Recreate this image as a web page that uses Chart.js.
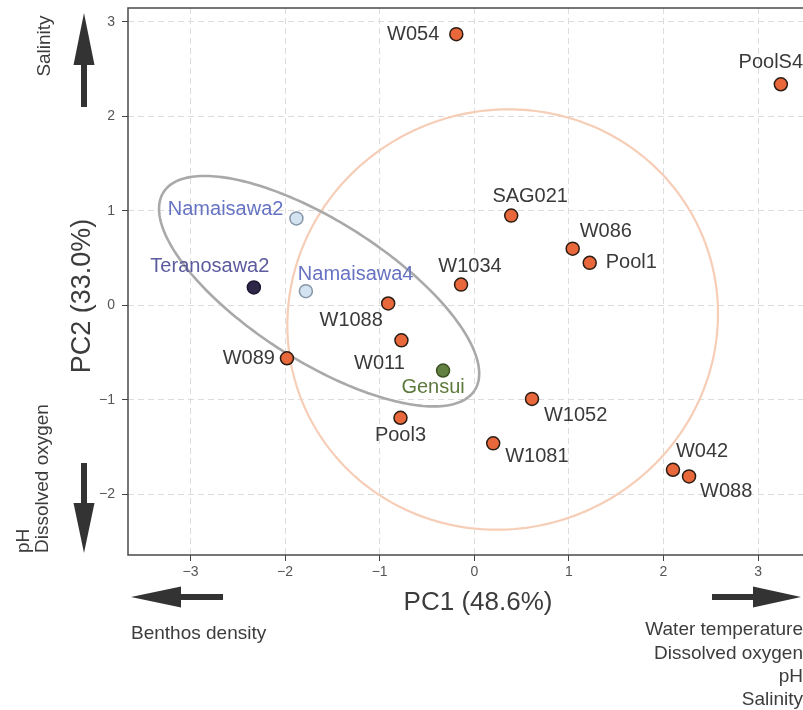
<!DOCTYPE html>
<html>
<head>
<meta charset="utf-8">
<script src="https://cdn.jsdelivr.net/npm/chart.js@4.4.1/dist/chart.umd.min.js"></script>
<style>
  html, body { margin: 0; padding: 0; background: #fff; overflow: hidden; width: 803px; height: 710px; }
  canvas { display: block; }
</style>
</head>
<body>
<canvas id="pca" width="830" height="710"></canvas>
<script>
// site scores on the first two principal components
const sites  = ['W054', 'PoolS4', 'SAG021', 'W086', 'Pool1', 'W1034', 'W1088', 'W011', 'W089',
                'Pool3', 'W1052', 'W1081', 'W042', 'W088', 'Namaisawa2', 'Namaisawa4', 'Teranosawa2', 'Gensui'];
const pc1    = [-0.19, 3.24, 0.39, 1.04, 1.22, -0.14, -0.91, -0.77, -1.98,
                -0.78, 0.61, 0.20, 2.10, 2.27, -1.88, -1.78, -2.33, -0.33];
const pc2    = [2.87, 2.34, 0.95, 0.60, 0.45, 0.22, 0.02, -0.37, -0.56,
                -1.19, -0.99, -1.46, -1.74, -1.81, 0.92, 0.15, 0.19, -0.69];
const groups = ['Other', 'Other', 'Other', 'Other', 'Other', 'Other', 'Other', 'Other', 'Other',
                'Other', 'Other', 'Other', 'Other', 'Other', 'Namaisawa', 'Namaisawa', 'Teranosawa', 'Gensui'];

// confidence ellipses (centre, semi axes, rotation in degrees)
const ellipseNames   = ['Other', 'Namaisawa'];
const ellipseCenterX = [0.30, -1.64];
const ellipseCenterY = [-0.15, 0.15];
const ellipseSemiA   = [2.29, 1.95];
const ellipseSemiB   = [2.21, 0.74];
const ellipseAngle   = [25, -32.5];

const xTicks = [-3, -2, -1, 0, 1, 2, 3];
const yTicks = [-2, -1, 0, 1, 2, 3];

const FONT = "'Liberation Sans', Arial, sans-serif";

const groupStyle = {
  Other:      { fill: '#e8683c', stroke: '#2b1d14', text: '#3a3a3a' },
  Namaisawa:  { fill: '#d4e3f0', stroke: '#8796a8', text: '#6673c2' },
  Teranosawa: { fill: '#2f2748', stroke: '#1a1530', text: '#5b5b9e' },
  Gensui:     { fill: '#62803f', stroke: '#3e5226', text: '#5d7a3c' }
};
const ellipseColor = { Other: '#f6cdb6', Namaisawa: '#a9a9a9' };

// label placement relative to the point: [dx, dy, align]
const labelPos = {
  W054: [-17, 0, 'right'], PoolS4: [-10, -22, 'center'], SAG021: [19, -19, 'center'],
  W086: [7, -17, 'left'], Pool1: [16, 0, 'left'], W1034: [9, -18, 'center'],
  W1088: [-37, 17, 'center'], W011: [-22, 23, 'center'], W089: [-12, 0, 'right'],
  Pool3: [0, 18, 'center'], W1052: [12, 17, 'left'], W1081: [12, 13, 'left'],
  W042: [3, -18, 'left'], W088: [11, 15, 'left'],
  Namaisawa2: [-13, -9, 'right'], Namaisawa4: [-8, -17, 'left'],
  Teranosawa2: [-44, -21, 'center'], Gensui: [-10, 17, 'center']
};

const groupOrder = ['Other', 'Namaisawa', 'Teranosawa', 'Gensui'];
const datasets = groupOrder.map(g => {
  const idx = sites.map((s, i) => i).filter(i => groups[i] === g);
  return {
    label: g,
    names: idx.map(i => sites[i]),
    data: idx.map(i => ({ x: pc1[i], y: pc2[i] })),
    backgroundColor: groupStyle[g].fill,
    borderColor: groupStyle[g].stroke,
    borderWidth: 1.5,
    pointRadius: 6.5
  };
});

function fmt(v) {
  return v < 0 ? '\u2212' + Math.abs(v) : String(v);
}

const ellipsePlugin = {
  id: 'ellipses',
  beforeDatasetsDraw(chart) {
    const { ctx, chartArea: a, scales: { x, y } } = chart;
    ctx.save();
    ctx.beginPath();
    ctx.rect(a.left, a.top, a.right - a.left, a.bottom - a.top);
    ctx.clip();
    ellipseNames.forEach((name, e) => {
      const th = ellipseAngle[e] * Math.PI / 180;
      ctx.beginPath();
      for (let k = 0; k <= 240; k++) {
        const t = k / 240 * Math.PI * 2;
        const dx = ellipseSemiA[e] * Math.cos(t);
        const dy = ellipseSemiB[e] * Math.sin(t);
        const px = x.getPixelForValue(ellipseCenterX[e] + dx * Math.cos(th) - dy * Math.sin(th));
        const py = y.getPixelForValue(ellipseCenterY[e] + dx * Math.sin(th) + dy * Math.cos(th));
        if (k === 0) ctx.moveTo(px, py); else ctx.lineTo(px, py);
      }
      ctx.strokeStyle = ellipseColor[name];
      ctx.lineWidth = name === 'Other' ? 2.2 : 2.6;
      ctx.stroke();
    });
    ctx.restore();

    // frame round the plot (right side falls outside the window)
    ctx.save();
    ctx.strokeStyle = '#4a4a4a';
    ctx.lineWidth = 1.5;
    ctx.beginPath();
    ctx.moveTo(a.right + 20, a.top);
    ctx.lineTo(a.left, a.top);
    ctx.lineTo(a.left, a.bottom);
    ctx.lineTo(a.right + 20, a.bottom);
    ctx.stroke();
    ctx.restore();
  }
};

const labelPlugin = {
  id: 'siteLabels',
  afterDatasetsDraw(chart) {
    const ctx = chart.ctx;
    ctx.save();
    ctx.font = '20px ' + FONT;
    ctx.textBaseline = 'middle';
    chart.data.datasets.forEach((ds, d) => {
      const meta = chart.getDatasetMeta(d);
      meta.data.forEach((pt, i) => {
        const name = ds.names[i];
        const p = labelPos[name];
        ctx.fillStyle = groupStyle[ds.label].text;
        ctx.textAlign = p[2];
        ctx.fillText(name, pt.x + p[0], pt.y + p[1]);
      });
    });
    ctx.restore();
  }
};

function arrow(ctx, x1, y1, x2, y2, shaft, headW, headL) {
  const len = Math.hypot(x2 - x1, y2 - y1);
  const ux = (x2 - x1) / len, uy = (y2 - y1) / len;
  const nx = -uy, ny = ux;
  const bx = x2 - ux * headL, by = y2 - uy * headL;
  ctx.beginPath();
  ctx.moveTo(x1 + nx * shaft / 2, y1 + ny * shaft / 2);
  ctx.lineTo(bx + nx * shaft / 2, by + ny * shaft / 2);
  ctx.lineTo(bx + nx * headW / 2, by + ny * headW / 2);
  ctx.lineTo(x2, y2);
  ctx.lineTo(bx - nx * headW / 2, by - ny * headW / 2);
  ctx.lineTo(bx - nx * shaft / 2, by - ny * shaft / 2);
  ctx.lineTo(x1 - nx * shaft / 2, y1 - ny * shaft / 2);
  ctx.closePath();
  ctx.fill();
}

function vText(ctx, text, x, y, align) {
  ctx.save();
  ctx.translate(x, y);
  ctx.rotate(-Math.PI / 2);
  ctx.textAlign = align;
  ctx.fillText(text, 0, 0);
  ctx.restore();
}

const annotationPlugin = {
  id: 'annotations',
  afterDraw(chart) {
    const ctx = chart.ctx;
    ctx.save();
    ctx.fillStyle = '#333';
    arrow(ctx, 84, 107, 84, 13, 6, 21, 52);
    arrow(ctx, 84, 463, 84, 553, 6, 21, 50);
    arrow(ctx, 223, 597, 131, 597, 6, 21, 50);
    arrow(ctx, 712, 597, 801, 597, 6, 21, 48);

    ctx.fillStyle = '#3c3c3c';
    ctx.textBaseline = 'middle';
    ctx.font = '26px ' + FONT;
    ctx.textAlign = 'center';
    ctx.fillText('PC1 (48.6%)', 478, 603);
    ctx.font = '27px ' + FONT;
    vText(ctx, 'PC2 (33.0%)', 83, 296, 'center');

    ctx.font = '19px ' + FONT;
    vText(ctx, 'Salinity', 45, 46, 'center');
    vText(ctx, 'pH', 24, 553, 'left');
    vText(ctx, 'Dissolved oxygen', 43, 553, 'left');

    ctx.textAlign = 'left';
    ctx.fillText('Benthos density', 131, 634);
    ctx.textAlign = 'right';
    ctx.fillText('Water temperature', 803, 630);
    ctx.fillText('Dissolved oxygen', 803, 654);
    ctx.fillText('pH', 803, 677);
    ctx.fillText('Salinity', 803, 700);
    ctx.restore();
  }
};

const tickFont = { family: FONT, size: 14 };

new Chart(document.getElementById('pca'), {
  type: 'scatter',
  data: { datasets },
  options: {
    responsive: false,
    animation: false,
    devicePixelRatio: 1,
    layout: { padding: { left: 0, top: 5, right: 10, bottom: 0 } },
    plugins: { legend: { display: false }, tooltip: { enabled: false } },
    scales: {
      x: {
        type: 'linear',
        min: -3.66,
        max: 3.654,
        afterFit: s => { s.height = 155; s.paddingLeft = 0; s.paddingRight = 0; },
        afterBuildTicks: s => { s.ticks = xTicks.map(v => ({ value: v })); },
        ticks: { callback: fmt, color: '#555', font: tickFont, padding: 3, maxRotation: 0 },
        grid: { color: '#dcdcdc', tickColor: '#444', tickLength: 6, lineWidth: 1 },
        border: { display: false, dash: [6, 4] }
      },
      y: {
        type: 'linear',
        min: -2.642,
        max: 3.147,
        afterFit: s => { s.width = 128; s.paddingTop = 0; s.paddingBottom = 0; },
        afterBuildTicks: s => { s.ticks = yTicks.map(v => ({ value: v })); },
        ticks: { callback: fmt, color: '#555', font: tickFont, padding: 7 },
        grid: { color: '#dcdcdc', tickColor: '#444', tickLength: 6, lineWidth: 1 },
        border: { display: false, dash: [6, 4] }
      }
    }
  },
  plugins: [ellipsePlugin, labelPlugin, annotationPlugin]
});
</script>
</body>
</html>
